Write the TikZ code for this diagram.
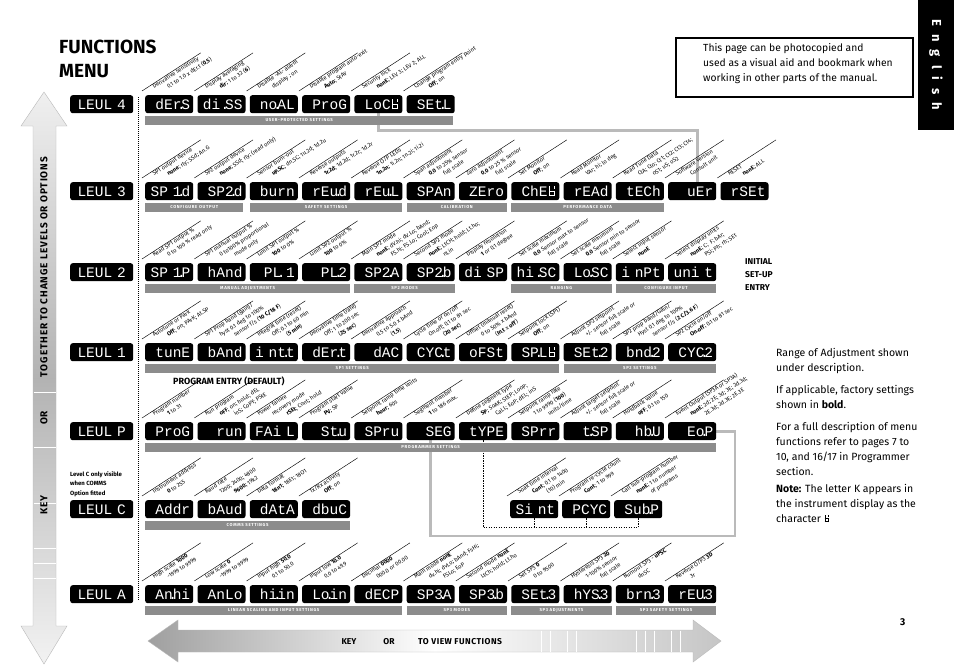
\documentclass[tikz,border=0pt]{standalone}
\usepackage{fontspec}
\setmainfont{Fira Sans}
\newfontfamily\monoff{Liberation Mono}
\newfontfamily\barff{Fira Sans}[LetterSpace=15]
\newfontfamily\arrff{Fira Sans}[LetterSpace=9]
\newfontfamily\viewff{Fira Sans}[LetterSpace=6]
\usetikzlibrary{calc}
\pgfdeclarelayer{bgw}
\pgfdeclarelayer{bg}
\pgfsetlayers{bgw,bg,main}
\definecolor{bargray}{HTML}{8C8C8C}
\definecolor{framegray}{HTML}{BABABA}
\newcommand\sdt{\makebox[0pt][c]{.}}
\newcommand\Kglyph{{\setlength{\unitlength}{0.01em}\begin{picture}(60,66)%
\put(8,0){\rule{7\unitlength}{66\unitlength}}%
\put(45,0){\rule{7\unitlength}{36\unitlength}}%
\put(8,0){\rule{44\unitlength}{7\unitlength}}%
\put(8,30){\rule{44\unitlength}{7\unitlength}}%
\put(45,50){\rule{7\unitlength}{16\unitlength}}%
\end{picture}}}
\newcommand\fnbox[7]{%
 \node[disp] (#1) at (#2,#3) {#4};
 \draw[slant] ([shift={(-3,-4)}]#1.north west) -- ++(58.7,-38.1);
 \node[lbl] at ([shift={(9,-6)}]#1.north west) {#5};
 \node[lbl] at ([shift={(23.5,-6)}]#1.north west) {#6};
 \if\relax\detokenize{#7}\relax\else\node[lbl] at ([shift={(38,-6)}]#1.north west) {#7};\fi
}
\begin{document}
\begin{tikzpicture}[x=1pt,y=-1pt,
 disp/.style={fill=black, rounded corners=2.5pt, text=white, font=\monoff\fontsize{14.5}{14.5}\selectfont, text width=42pt, align=right, inner xsep=3pt, inner ysep=0pt, text height=9.6pt, text depth=0pt, minimum height=18pt, anchor=north west},
 lev/.style={disp, text width=57pt, align=center},
 bar/.style={fill=bargray, text=white, font=\barff\bfseries\fontsize{4.3}{5}\selectfont, minimum height=8.5pt, inner sep=0pt, anchor=north west},
 lbl/.style={rotate=33, anchor=base west, font=\fontsize{5.7}{6}\selectfont, inner sep=0pt},
 slant/.style={line width=0.45pt},
 frameline/.style={draw=framegray, line width=2.6pt},
 dotline/.style={line width=0.8pt, dash pattern=on 1.2pt off 1.3pt},
 rtext/.style={anchor=base west, inner sep=0pt, font=\fontsize{10.5}{12}\selectfont},
 btext/.style={anchor=base west, inner sep=0pt, font=\bfseries\fontsize{8.5}{10}\selectfont},
 arrtext/.style={inner sep=0pt, font=\arrff\bfseries\fontsize{10}{11}\selectfont},
 arrfill/.style={draw=gray!55, line width=0.4pt},
 stripe/.style={white, line width=0.9pt}
]
\useasboundingbox (0,0) rectangle (954,672);
\begin{pgfonlayer}{bgw}
\fill[white] (0,0) rectangle (954,672);
\end{pgfonlayer}

% ---------- big arrows ----------
\shade[arrfill, top color=gray!12, bottom color=gray!10, middle color=gray!60]
 (44,92) -- (67,126) -- (56,126) -- (56,626) -- (67,626) -- (44,664) -- (21,626) -- (33,626) -- (33,126) -- (21,126) -- cycle;
\foreach \y in {392,447,503,548,563,578} \draw[stripe] (33.5,\y) -- (55.5,\y);
\node[arrtext, rotate=90] (kl) at (44,505) {KEY};
\node[arrtext, rotate=90] (ol) at (44,418) {OR};
\node[arrtext, rotate=90] (tl) at (44,267) {TOGETHER TO CHANGE LEVELS OR OPTIONS};

\shade[arrfill, left color=gray!75, right color=gray!45, middle color=white]
 (148,641) -- (178,620) -- (178,630) -- (693,630) -- (693,620) -- (721,641) -- (693,662) -- (693,652) -- (178,652) -- (178,662) -- cycle;
\foreach \x in {541,550,567,576,636,645,654,671,680} \draw[stripe] (\x,630.5) -- (\x,651.5);
\node[btext, anchor=base] (kb) at (349,644) {KEY};
\node[btext, anchor=base] (ob) at (389,644) {OR};
\node[btext, font=\viewff\bfseries\fontsize{8.5}{10}\selectfont] (vb) at (418,644) {TO VIEW FUNCTIONS};

% ---------- title, notes ----------
\node[anchor=base west, inner sep=0pt, font=\bfseries\fontsize{19}{20}\selectfont] (t1) at (59,53) {FUNCTIONS};
\node[anchor=base west, inner sep=0pt, font=\bfseries\fontsize{19}{20}\selectfont] (t2) at (59,77) {MENU};

\draw[line width=1.5pt] (676,38) rectangle (913,97);
\node[rtext, font=\fontsize{10.3}{12}\selectfont] (n1) at (703,51) {This page can be photocopied and};
\node[rtext, font=\fontsize{10.3}{12}\selectfont] (n2) at (703,66) {used as a visual aid and bookmark when};
\node[rtext, font=\fontsize{10.3}{12}\selectfont] (n3) at (703,81) {working in other parts of the manual.};

\fill[black] (918,0) rectangle (954,130);
\node[rotate=-90, text=white, font=\bfseries\fontsize{13}{13}\selectfont, inner sep=0pt] (eng) at (936,65) {E\hspace{8pt}n\hspace{8pt}g\hspace{8pt}l\hspace{8pt}i\hspace{8pt}s\hspace{8pt}h};

\node[rtext] (r1) at (776,356) {Range of Adjustment shown};
\node[rtext] (r2) at (776,371) {under description.};
\node[rtext] (r3) at (776,393) {If applicable, factory settings};
\node[rtext] (r4) at (776,408) {shown in \textbf{bold}.};
\node[rtext] (r5) at (776,430) {For a full description of menu};
\node[rtext] (r6) at (776,445) {functions refer to pages 7 to};
\node[rtext] (r7) at (776,460) {10, and 16/17 in Programmer};
\node[rtext] (r8) at (776,475) {section.};
\node[rtext] (r9) at (776,492) {\textbf{Note:} The letter K appears in};
\node[rtext] (r10) at (776,507) {the instrument display as the};
\node[rtext] (r11) at (776,522) {character \Kglyph};

\node[btext] (ini1) at (745,264) {INITIAL};
\node[btext] (ini2) at (745,277) {SET-UP};
\node[btext] (ini3) at (745,290) {ENTRY};
\node[btext, font=\bfseries\fontsize{9}{10}\selectfont] (pe) at (173,384) {PROGRAM ENTRY (DEFAULT)};
\node[btext, font=\bfseries\fontsize{6}{7}\selectfont] (lc1) at (70,476) {Level C only visible};
\node[btext, font=\bfseries\fontsize{6}{7}\selectfont] (lc2) at (70,485.5) {when COMMS};
\node[btext, font=\bfseries\fontsize{6}{7}\selectfont] (lc3) at (70,495) {Option fitted};
\node[btext, font=\bfseries\fontsize{10}{12}\selectfont] (pg) at (900,625) {3};

% ---------- level boxes ----------
\node[lev] (L4) at (70,95) {LEUL 4};
\node[lev] (L3) at (70,182) {LEUL 3};
\node[lev] (L2) at (70,263) {LEUL 2};
\node[lev] (L1) at (70,343) {LEUL 1};
\node[lev] (LP) at (70,422) {LEUL P};
\node[lev] (LC) at (70,500) {LEUL C};
\node[lev] (LA) at (70,585) {LEUL A};

% ---------- level 4 ----------
\fnbox{dErS}{145}{95}{dEr\sdt S}{Derivative sensitivity}{0.1 to 1.0 x dEr.t (\textbf{0.5})}{}
\fnbox{diSS}{197.3}{95}{di \sdt SS}{Display averaging}{\textbf{dir}; 1 to 32 (\textbf{6})}{}
\fnbox{noAL}{249.6}{95}{no\sdt AL}{Disable -AL- alarm}{display ; on}{}
\fnbox{ProG}{301.9}{95}{ProG}{Disable program auto-exit}{\textbf{Auto}; StAY}{}
\fnbox{LoCK}{354.2}{95}{LoC\Kglyph}{Security lock}{\textbf{nonE}; LEV 3; LEV 2; ALL}{}
\fnbox{SEtL}{406.5}{95}{SEt\sdt L}{Change program entry point}{\textbf{Off}; on}{}
\node[bar, minimum width=308pt] (b4) at (145,116) {USER-PROTECTED SETTINGS};

% ---------- level 3 ----------
\fnbox{SPId}{145}{182}{SP 1\sdt d}{SP1 output device}{\textbf{none}; rly; SSd; An.G}{}
\fnbox{SPIId}{197.3}{182}{SP2\sdt d}{SP2 output device}{\textbf{none}; SSd; rly; (read only)}{}
\fnbox{burn}{249.6}{182}{burn}{Sensor burn-out}{\textbf{uP.SC}; dn.SC; 1u.2d; 1d.2u}{}
\fnbox{rEvd}{301.9}{182}{rEu\sdt d}{Reverse outputs}{\textbf{1r.2d}; 1d.2d; 1r.2r; 1d.2r}{}
\fnbox{rEvL}{354.2}{182}{rEu\sdt L}{Reverse O/P LEDs}{\textbf{1n.2n}; 1i.2n; 1n.2i; 1i.2i}{}
\fnbox{SPAn}{406.5}{182}{SPAn}{Span adjustment}{\textbf{0.0} to 25\% sensor}{full scale}
\fnbox{ZEro}{458.8}{182}{ZEro}{Zero adjustment}{\textbf{0.0} to 25 \% sensor}{full scale}
\fnbox{ChEK}{511.1}{182}{ChE\Kglyph}{Set Monitor}{\textbf{Off}; on}{}
\fnbox{rEAd}{563.4}{182}{rEAd}{Read Monitor}{VAr; hi; lo deg}{}
\fnbox{tECh}{615.7}{182}{tECh}{Read Tune Data}{CtA; Cto; Ct1; Ct2; Ct3; Ct4;}{oS1; uS; oS2}
\fnbox{vEr}{668}{182}{uEr}{Software version}{Consult unit}{}
\fnbox{rSEt}{720.3}{182}{rSEt}{RESET}{\textbf{nonE}; ALL}{}
\node[bar, minimum width=98pt] (b3a) at (145,203) {CONFIGURE OUTPUT};
\node[bar, minimum width=152.6pt] (b3b) at (249.6,203) {SAFETY SETTINGS};
\node[bar, minimum width=100.3pt] (b3c) at (406.5,203) {CALIBRATION};
\node[bar, minimum width=152.6pt] (b3d) at (511.1,203) {PERFORMANCE DATA};

% ---------- level 2 ----------
\fnbox{SPIP}{145}{263}{SP 1\sdt P}{Read SP1 output \%}{0 to 100 \% read only}{}
\fnbox{hAnd}{197.3}{263}{hAnd}{SP1 manual output \%}{0 to100\% proportional}{mode only}
\fnbox{PLI}{249.6}{263}{PL\sdt\ 1}{Limit SP1 output \%}{\textbf{100} to 0\%}{}
\fnbox{PLII}{301.9}{263}{PL\sdt 2}{Limit SP2 output \%}{\textbf{100} to 0\%}{}
\fnbox{SPIIA}{354.2}{263}{SP2\sdt A}{Main SP2 mode}{\textbf{nonE}; dV.hi; dV.Lo; bAnd;}{FS.hi; FS.Lo; Cool; Eop}
\fnbox{SPIIb}{406.5}{263}{SP2\sdt b}{Second SP2 mode}{\textbf{nonE}; LtCH; hold; Lt.ho;}{nLin}
\fnbox{diSP}{458.8}{263}{di SP}{Display resolution}{\textbf{1} or 0.1 degree}{}
\fnbox{hiSC}{511.1}{263}{hi \sdt SC}{Set scale maximum}{\textbf{0.0} Sensor max to sensor}{full scale}
\fnbox{LoSC}{563.4}{263}{Lo\sdt SC}{Set scale minimum}{\textbf{0.0} Sensor min to sensor}{full scale}
\fnbox{inPt}{615.7}{263}{i nPt}{Select input sensor}{\textbf{nonE}}{}
\fnbox{unit}{668}{263}{uni t}{Select display units}{\textbf{nonE}; C;\ \ F; bAr;}{PSi; Ph; rh; SEt}
\node[bar, minimum width=204.9pt] (b2a) at (145,284) {MANUAL ADJUSTMENTS};
\node[bar, minimum width=100.3pt] (b2b) at (354.2,284) {SP2 MODES};
\node[bar, minimum width=100.3pt] (b2c) at (511.1,284) {RANGING};
\node[bar, minimum width=100.3pt] (b2d) at (615.7,284) {CONFIGURE INPUT};

% ---------- level 1 ----------
\fnbox{tunE}{145}{343}{tunE}{Autotune or Park}{\textbf{Off}; on; PArK; At.SP}{}
\fnbox{bAnd}{197.3}{343}{bAnd}{SP1 Prop band (gain)/}{hyst 0.1 deg to 100\%}{sensor f/s (\textbf{10 C/18 F})}
\fnbox{intt}{249.6}{343}{i nt\sdt t}{Integral time (reset)}{Off; 0.1 to 60 min}{(\textbf{5 min})}
\fnbox{dErt}{301.9}{343}{dEr\sdt t}{Derivative time (rate)}{Off; 1 to 200 sec}{(\textbf{25 sec})}
\fnbox{dAC}{354.2}{343}{dAC}{Derivative approach}{0.5 to 5.0 x bAnd}{(\textbf{1.5})}
\fnbox{CYCt}{406.5}{343}{CYC\sdt t}{Cycle time or on/off}{On.off; 0.1 to 81 sec}{(\textbf{20 sec})}
\fnbox{oFSt}{458.8}{343}{oFSt}{Offset (manual reset)}{0 to 50\% x bAnd}{(\textbf{In.t} x \textbf{off})}
\fnbox{SPLK}{511.1}{343}{SP\sdt L\Kglyph}{Setpoint lock (SP1)}{\textbf{Off}; on}{}
\fnbox{SEtII}{563.4}{343}{SEt\sdt 2}{Adjust SP2 setpoint}{+/- sensor full scale or}{full scale}
\fnbox{bndII}{615.7}{343}{bnd\sdt 2}{SP2 prop band/Gain/}{Hyst 0.1 deg to 100\%}{sensor f/s (\textbf{2 C/3.6 F})}
\fnbox{CYCII}{668}{343}{CYC\sdt 2}{SP2 Cycle on/off}{\textbf{On.off}; 0.1 to 81 sec}{}
\node[bar, minimum width=414.1pt] (b1a) at (145,364) {SP1 SETTINGS};
\node[bar, minimum width=152.6pt] (b1b) at (563.4,364) {SP2 SETTINGS};

% ---------- level P ----------
\fnbox{PProG}{145}{422}{ProG}{Program number}{\textbf{1} to 31}{}
\fnbox{run}{197.3}{422}{run}{Run program}{\textbf{oFF}; on; hoLd; dEL}{inS; CoPY; PStE}
\fnbox{FAIL}{249.6}{422}{FAi L}{Power failure}{recovery mode}{\textbf{rSEt}; Cont; hoLd}
\fnbox{Stu}{301.9}{422}{St\sdt u}{Program start value}{\textbf{PV}; SP}{}
\fnbox{SPru}{354.2}{422}{SPru}{Setpoint ramp time units}{\textbf{hour}; 60s}{}
\fnbox{SEG}{406.5}{422}{SEG}{Segment number}{\textbf{1} to 186 max.}{}
\fnbox{tYPE}{458.8}{422}{tYPE}{Define segment type}{\textbf{SP}; SoAK; StEP; LooP;}{CaLL; EoP; dEL; inS}
\fnbox{SPrr}{511.1}{422}{SPrr}{Setpoint ramp rate}{1 to 9990 (\textbf{100})}{units/time}
\fnbox{tSP}{563.4}{422}{t\sdt SP}{Adjust target setpoint}{+/- sensor full scale or}{full scale}
\fnbox{hbU}{615.7}{422}{hb\sdt U}{Holdback value}{\textbf{oFF}; 0.1 to 150}{}
\fnbox{EoP}{668}{422}{Eo\sdt P}{Event Output (SP3A or SP3A)}{\textbf{nonE}; 2d; 2E; 3d; 3E; 2d.3d;}{2E.3d; 2d.3E; 2E.3E}
\node[bar, minimum width=571pt] (bP) at (145,443) {PROGRAMMER SETTINGS};

% ---------- sub program ----------
\fnbox{Sint}{510}{500}{Si nt}{Soak time interval}{\textbf{Cont}; 0.1 to 1400}{(10) min}
\fnbox{PCYC}{562}{500}{PCYC}{Program re-cycle count}{\textbf{Cont}; 1 to 999}{}
\fnbox{SubP}{614}{500}{Sub\sdt P}{Call sub-program number}{\textbf{nonE}; 1 to number}{of programs}

% ---------- level C ----------
\fnbox{Addr}{145}{500}{Addr}{Instrument address}{\textbf{0} to 255}{}
\fnbox{bAud}{197.3}{500}{bAud}{Baud rate}{1200; 2400; 4800}{\textbf{9600}; 19k2}
\fnbox{dAtA}{249.6}{500}{dAtA}{Data format}{\textbf{18n1}; 18E1; 18O1}{}
\fnbox{dbuC}{301.9}{500}{dbuC}{Tx/Rx activity}{\textbf{Off}; on}{}
\node[bar, minimum width=204.9pt] (bC) at (145,521) {COMMS SETTINGS};

% ---------- level A ----------
\fnbox{Anhi}{145}{585}{An\sdt hi}{High scale \textbf{1000}}{-1999 to 9999}{}
\fnbox{AnLo}{197.3}{585}{AnLo}{Low scale \textbf{0}}{-1999 to 9999}{}
\fnbox{hiin}{249.6}{585}{hi\sdt in}{Input high \textbf{50.0}}{0.1 to 50.0}{}
\fnbox{Loin}{301.9}{585}{Lo\sdt in}{Input low \textbf{10.0}}{0.0 to 49.9}{}
\fnbox{dECP}{354.2}{585}{dECP}{Decimal \textbf{0000}}{000.0 or 00.00}{}
\fnbox{SPIIIA}{406.5}{585}{SP3\sdt A}{Main mode \textbf{nonE}}{dv.hi; dvLo; bAnd; FsHi;}{FSLo; EoP}
\fnbox{SPIIIb}{458.8}{585}{SP3\sdt b}{Second mode \textbf{nonE}}{LtCh; hold; Lt.ho}{}
\fnbox{SEtIII}{511.1}{585}{SEt\sdt 3}{Set SP3 \textbf{0}}{0 to 9500}{}
\fnbox{hYSIII}{563.4}{585}{hYS\sdt 3}{Hysteresis SP3 \textbf{20}}{1-100\% sensor}{full scale}
\fnbox{brnIII}{615.7}{585}{brn\sdt 3}{Burnout SP3 - \textbf{uPSC}}{dnSC}{}
\fnbox{rEvIII}{668}{585}{rEU\sdt 3}{Reverse O/P3 \textbf{3D}}{3r}{}
\node[bar, minimum width=257.2pt] (bAa) at (145,606) {LINEAR SCALING AND INPUT SETTINGS};
\node[bar, minimum width=100.3pt] (bAb) at (406.5,606) {SP3 MODES};
\node[bar, minimum width=100.3pt] (bAc) at (511.1,606) {SP3 ADJUSTMENTS};
\node[bar, minimum width=100.3pt] (bAd) at (615.7,606) {SP3 SAFETY SETTINGS};

% ---------- connectors (behind) ----------
\begin{pgfonlayer}{bg}
\draw[frameline] (LoCK.south) -- ++(0,17) -| ([xshift=5pt]vEr.north);
\draw[frameline] (EoP.east) -| (735,536) coordinate (fc) -| (SEG.south);
\draw[dotline] (tYPE.south) -- ++(0,87) coordinate (dc) -| (SubP.south);
\draw[dotline] (Sint.south) -- (Sint.south |- dc);
\draw[dotline] (PCYC.south) -- (PCYC.south |- dc);
\coordinate (dtop) at (138,97);
\coordinate (dbot) at (138,600);
\draw[line width=0.8pt, dash pattern=on 0.9pt off 1.1pt] (dtop) -- (dbot);
\end{pgfonlayer}
\end{tikzpicture}
\end{document}
